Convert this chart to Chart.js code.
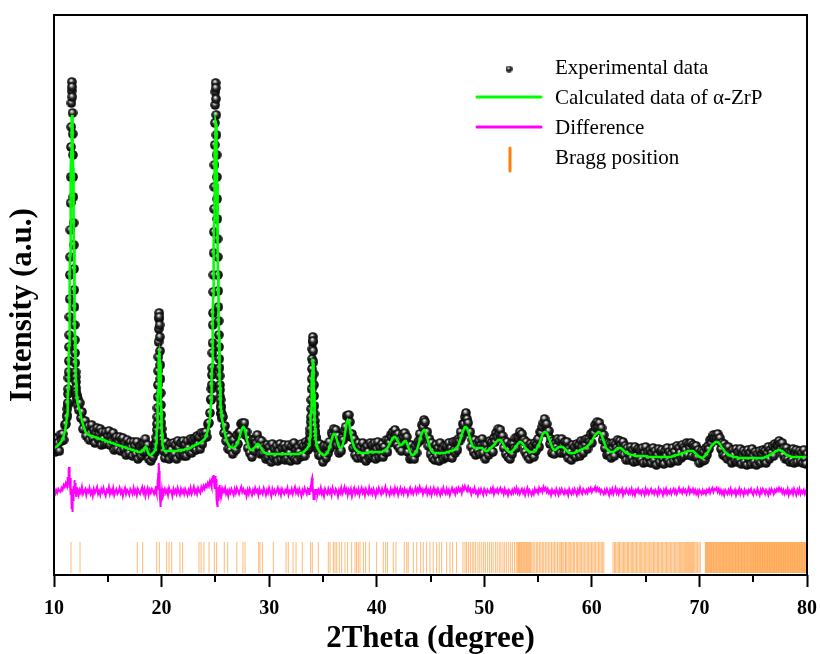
<!DOCTYPE html>
<html>
<head>
<meta charset="utf-8">
<script src="https://cdn.jsdelivr.net/npm/chart.js@4.4.0/dist/chart.umd.min.js"></script>
<style>
  html, body { margin: 0; padding: 0; background: #ffffff; }
  #wrap { width: 820px; height: 654px; }
</style>
</head>
<body>
<div id="wrap"><canvas id="xrd" width="820" height="654"></canvas></div>
<script>
// Scan grid: [start, end, step] in degrees 2θ (finer steps across the strong reflections)
const scanSegments = [
  [10.0, 11.1, 0.1],
  [11.2, 12.18, 0.02],
  [12.2, 19.3, 0.1],
  [19.4, 20.18, 0.02],
  [20.2, 24.5, 0.1],
  [24.6, 25.58, 0.02],
  [25.6, 33.6, 0.1],
  [33.7, 34.48, 0.02],
  [34.5, 80.0, 0.1]
];

// Observed intensity (a.u.)
const yObs = [
  // 10.0
  133,123,137,126,132,124,140,134,141,135,150,151,
  // 11.20 (step 0.02)
  160,158,166,170,172,181,186,197,203,214,
  228,240,258,276,300,318,345,372,398,428,
  448,472,484,493,488,478,462,441,420,398,
  378,352,330,306,285,268,250,235,222,212,
  203,198,193,187,183,180,178,176,173,170,
  // 12.2
  176,165,172,157,163,146,153,154,139,148,
  149,135,142,150,137,145,132,142,147,136,
  141,146,130,143,136,131,143,132,139,144,
  130,139,134,142,125,136,138,126,133,138,
  124,135,137,126,132,120,135,127,122,133,
  128,119,133,129,121,133,116,125,129,119,
  131,123,132,136,123,130,116,123,114,125,
  118,129,
  // 19.40 (step 0.02)
  127,123,130,126,133,131,138,136,145,151,
  158,167,178,190,204,218,233,246,256,262,
  258,250,238,224,210,196,182,170,160,152,
  146,140,138,133,134,129,131,126,129,124,
  // 20.2
  130,117,133,122,128,116,131,125,119,132,
  121,130,116,134,127,120,132,123,134,119,
  130,119,134,127,123,136,122,135,127,137,
  125,139,131,138,126,142,131,142,138,143,
  138,151,152,162,
  // 24.60 (step 0.02)
  175,176,186,190,200,207,222,232,250,262,
  283,300,322,343,366,388,410,430,452,470,
  483,492,487,476,460,440,420,398,376,356,
  336,318,300,284,268,254,240,228,216,207,
  199,190,185,178,175,169,167,162,161,157,
  // 25.6
  161,158,142,149,134,140,126,138,125,134,
  121,135,129,125,140,131,142,143,151,152,
  150,152,140,143,127,136,122,132,118,135,
  124,135,132,140,127,135,121,134,122,129,
  126,116,130,118,128,122,113,131,117,126,
  119,129,114,124,131,116,127,120,130,115,
  127,117,130,122,114,129,118,132,116,125,
  115,128,123,118,131,120,129,119,133,129,
  125,
  // 33.70 (step 0.02)
  131,127,133,131,137,136,142,146,153,158,
  166,175,186,196,206,216,226,233,238,234,
  224,213,201,190,179,169,161,154,149,144,
  142,137,138,132,134,129,131,127,130,126,
  // 34.5
  129,120,131,119,127,113,129,120,117,129,
  122,133,127,142,140,146,138,145,130,139,
  122,132,124,137,135,144,148,159,159,160,
  153,138,141,127,136,120,129,117,132,121,
  128,117,132,119,126,114,129,123,117,132,
  119,130,122,132,116,126,133,118,128,121,
  131,118,128,123,135,123,135,132,140,138,
  143,136,145,140,130,141,127,136,124,140,
  138,142,131,138,123,130,116,130,117,125,
  116,129,122,132,134,141,135,150,148,155,
  // 44.5
  153,143,143,129,136,121,132,117,125,115,
  130,119,127,114,132,121,126,116,129,118,
  129,118,132,122,127,117,133,125,122,134,
  125,136,134,143,138,151,151,158,162,156,
  152,143,143,128,135,123,135,120,131,124,
  134,121,130,136,122,130,116,130,125,120,
  134,125,133,123,137,133,142,138,146,141,
  145,138,139,127,134,121,133,118,126,116,
  131,121,131,127,137,127,138,137,143,139,
  141,134,135,123,133,119,129,116,131,121,
  // 54.5
  129,118,132,124,131,136,128,143,142,148,
  152,156,149,151,142,144,131,136,122,134,
  121,132,128,136,125,134,122,136,129,122,
  133,122,133,117,127,123,115,130,120,128,
  118,131,123,130,119,134,128,122,134,130,
  136,126,136,133,141,132,143,142,150,147,
  153,148,152,145,147,135,140,127,133,120,
  132,121,131,117,127,132,119,131,127,135,
  125,134,130,121,133,120,129,115,127,122,
  115,128,117,125,113,128,119,114,126,117,
  // 64.5
  125,115,127,112,122,128,113,123,117,125,
  112,122,127,115,124,110,120,126,113,123,
  125,116,111,124,119,127,114,123,112,121,
  127,114,123,118,129,114,127,122,117,130,
  119,128,125,132,120,131,127,132,119,130,
  128,118,129,118,125,112,122,124,114,123,
  115,127,120,129,126,135,132,137,140,137,
  140,137,141,134,137,126,132,120,131,119,
  128,116,128,119,123,112,125,120,114,126,
  113,123,115,126,111,120,124,113,122,110,
  // 74.5
  125,116,122,111,126,119,113,123,110,121,
  114,124,112,121,125,115,124,112,122,128,
  116,125,122,129,119,131,126,130,129,134,
  131,126,132,120,127,116,127,116,123,113,
  123,115,126,112,121,125,113,120,124,114,
  122,112,125,116,111,121
];

// Refined (calculated) profile of α-ZrP
const yCalc = [
  // 10.0
  127,128,128,129,130,131,132,134,136,139,143,149,
  // 11.20 (step 0.02)
  158,161,164,168,173,179,186,194,205,216,
  230,245,262,280,300,321,342,364,385,405,
  423,438,450,457,460,457,451,440,425,407,
  387,367,346,325,305,285,268,252,238,225,
  214,205,198,192,187,183,180,177,175,173,
  // 12.2
  172,168,164,159,154,150,147,144,142,141,
  140,140,139,139,139,138,138,138,137,137,
  136,136,136,135,135,135,134,134,133,133,
  133,132,132,132,131,131,130,130,130,129,
  129,129,128,128,128,127,127,126,126,126,
  125,125,125,124,124,124,123,123,123,123,
  124,125,127,128,127,124,121,120,120,121,
  122,123,
  // 19.40 (step 0.02)
  125,126,127,128,130,132,134,137,142,147,
  153,159,167,176,185,194,203,210,217,221,
  222,221,217,210,203,194,185,176,167,159,
  153,147,142,137,134,132,130,128,127,126,
  // 20.2
  125,124,124,124,124,124,124,124,124,124,
  124,124,124,124,125,125,125,125,125,125,
  126,126,126,126,127,127,128,129,129,130,
  130,131,131,132,132,133,134,135,136,138,
  141,145,150,157,
  // 24.60 (step 0.02)
  173,178,184,192,199,209,220,233,247,263,
  279,296,315,334,354,373,390,407,423,436,
  445,451,453,451,445,436,423,408,391,375,
  356,337,318,300,283,268,252,238,225,214,
  204,196,188,182,177,172,168,165,162,160,
  // 25.6
  158,152,146,141,136,133,131,129,128,128,
  127,127,128,129,131,133,136,140,144,147,
  148,147,143,137,132,128,126,125,125,126,
  127,128,130,131,131,130,128,126,124,123,
  122,122,121,121,121,121,121,121,121,121,
  121,121,121,121,121,121,121,121,121,121,
  121,121,121,121,121,121,121,121,121,121,
  121,121,121,122,122,122,123,124,125,126,
  128,
  // 33.70 (step 0.02)
  129,130,131,133,135,138,142,146,152,158,
  164,172,180,188,195,202,207,211,213,212,
  208,203,196,189,181,173,165,159,153,147,
  143,139,136,134,132,131,130,129,129,128,
  // 34.5
  127,125,123,122,121,120,120,120,121,122,
  124,127,131,135,139,141,141,139,135,131,
  128,127,127,129,133,138,145,152,155,154,
  148,141,135,131,128,126,125,124,123,123,
  122,122,122,122,122,122,122,122,123,123,
  123,123,123,123,123,123,123,123,123,123,
  123,124,124,125,126,127,129,131,133,135,
  137,138,138,137,135,133,131,130,130,131,
  133,134,134,132,129,126,123,121,120,120,
  121,122,124,127,131,135,139,142,144,145,
  // 44.5
  144,141,137,133,129,126,124,123,122,122,
  122,122,122,122,122,122,122,122,122,122,
  123,123,123,124,124,124,125,125,126,127,
  128,130,133,136,140,143,146,148,148,147,
  144,140,136,132,129,128,127,127,127,127,
  127,127,127,127,126,125,124,124,124,125,
  126,127,128,129,130,131,133,134,135,135,
  135,134,132,130,128,126,125,124,123,123,
  123,124,125,126,128,129,131,132,133,133,
  132,131,129,127,126,125,124,123,123,123,
  // 54.5
  123,123,124,125,127,129,131,134,137,140,
  142,143,143,142,140,137,134,131,128,126,
  125,125,126,127,128,128,128,128,128,127,
  126,125,124,123,122,122,122,122,122,122,
  123,123,124,124,125,125,126,126,127,127,
  128,129,130,131,132,134,136,138,140,141,
  142,143,143,142,140,137,134,131,128,126,
  125,124,123,123,123,123,124,125,126,127,
  127,127,127,126,125,124,123,122,122,121,
  121,120,120,120,120,119,119,119,119,119,
  // 64.5
  119,119,119,119,119,119,118,118,118,118,
  118,118,118,118,118,118,118,118,118,118,
  118,118,118,118,118,118,118,118,118,118,
  119,119,119,120,120,120,121,121,121,122,
  122,122,123,123,124,124,124,124,124,124,
  123,122,121,120,119,118,118,117,117,118,
  119,120,122,123,125,127,129,130,131,132,
  133,133,133,132,131,129,127,126,124,123,
  122,121,120,120,119,119,118,118,118,118,
  118,117,117,117,117,117,117,117,117,117,
  // 74.5
  117,117,117,117,117,117,117,117,117,117,
  117,117,117,117,117,117,118,118,119,119,
  120,120,121,122,122,123,124,124,125,125,
  125,124,124,123,122,121,120,120,119,119,
  118,118,118,118,118,118,118,118,118,118,
  118,118,118,118,118,118
];

// Difference curve (observed − calculated), plotted offset below the pattern
const yDiff = [
  // 10.0
  83,81,85,82,86,84,83,87,85,90,88,92,
  // 11.20 (step 0.02)
  89,93,87,95,90,98,94,102,97,105,
  108,100,96,104,92,88,97,85,91,80,
  86,74,78,66,70,63,72,68,79,75,
  84,80,89,86,94,90,95,88,92,85,
  89,81,86,79,84,88,82,86,80,85,
  // 12.2
  87,80,85,82,88,81,84,86,80,85,
  83,87,81,84,79,86,82,85,88,81,
  84,80,86,83,87,82,79,85,83,88,
  81,85,82,87,80,84,86,81,83,87,
  82,85,79,84,87,81,85,83,80,86,
  84,81,87,82,85,80,86,83,81,85,
  88,82,86,79,84,87,80,85,82,86,
  84,81,
  // 19.40 (step 0.02)
  85,81,86,83,88,84,87,82,89,86,
  91,88,95,92,99,104,98,108,112,104,
  96,88,82,76,71,68,74,70,78,75,
  82,79,85,81,86,82,87,80,85,83,
  // 20.2
  81,86,82,85,80,87,83,84,79,86,
  82,85,81,87,83,80,86,82,85,81,
  86,83,80,85,82,87,81,84,88,82,
  85,81,87,84,82,88,85,89,86,90,
  88,92,89,94,
  // 24.60 (step 0.02)
  90,95,88,93,91,97,92,96,94,99,
  95,100,96,98,94,92,97,89,86,91,
  95,99,93,96,90,85,80,76,71,68,
  74,70,79,75,84,80,88,84,90,86,
  82,87,80,85,82,86,81,84,80,85,
  // 25.6
  80,86,83,87,81,84,79,85,82,86,
  83,80,86,82,87,84,81,85,88,83,
  86,82,84,79,85,81,86,83,80,85,
  82,87,83,85,80,86,82,84,81,87,
  84,80,85,82,87,83,79,86,82,85,
  81,84,87,82,85,80,86,83,81,85,
  83,87,80,84,82,86,81,85,88,82,
  85,81,86,83,79,85,82,87,84,81,
  86,
  // 33.70 (step 0.02)
  84,81,86,83,87,84,88,85,89,86,
  90,88,93,91,95,97,93,96,89,85,
  80,77,75,79,76,81,78,84,81,86,
  82,85,81,86,83,80,85,82,86,83,
  // 34.5
  80,85,82,87,81,84,79,86,83,81,
  86,82,85,80,87,83,81,86,84,79,
  85,82,87,81,84,88,83,86,80,85,
  82,86,79,84,87,81,85,82,86,80,
  84,87,82,85,80,86,83,81,87,82,
  85,81,86,83,79,85,82,87,84,81,
  86,82,84,88,81,85,83,80,86,82,
  85,81,87,83,86,80,84,87,82,85,
  81,86,83,85,80,84,87,82,85,81,
  84,87,82,86,83,88,84,86,81,85,
  // 44.5
  83,87,81,85,82,86,80,84,87,82,
  85,81,86,83,80,85,82,87,83,81,
  86,82,85,80,84,87,83,85,81,86,
  83,87,84,86,82,88,85,89,86,84,
  88,84,86,81,85,83,87,82,84,80,
  85,82,86,83,80,86,84,81,85,83,
  82,86,83,87,81,85,83,86,82,85,
  87,83,85,81,86,82,84,80,85,83,
  81,85,82,86,83,87,82,85,81,84,
  86,82,85,80,84,87,81,85,83,80,
  // 54.5
  84,81,86,83,85,82,87,84,86,83,
  88,85,87,83,86,82,84,80,85,82,
  84,81,86,83,80,85,82,86,83,81,
  85,82,84,80,86,83,81,85,82,86,
  83,80,85,82,87,83,81,86,84,82,
  85,82,86,84,87,83,86,85,88,84,
  87,84,86,82,85,83,81,85,82,86,
  83,80,85,82,86,81,84,87,82,85,
  81,85,83,86,80,84,82,86,83,81,
  85,82,86,81,84,80,85,83,86,82,
  // 64.5
  84,81,85,83,80,86,82,85,81,84,
  86,82,84,81,85,83,80,86,82,85,
  83,80,85,82,86,81,84,82,85,81,
  84,86,82,85,81,84,87,83,85,82,
  86,83,85,81,84,87,82,85,83,86,
  82,85,81,84,80,85,83,81,85,82,
  84,81,85,83,86,82,85,87,83,86,
  85,87,83,86,82,85,81,84,80,85,
  83,81,85,82,86,81,84,82,85,80,
  84,82,86,81,85,83,80,85,82,84,
  // 74.5
  81,85,83,86,82,80,85,83,81,86,
  83,80,85,82,86,84,81,85,83,80,
  85,82,86,84,81,85,83,86,84,87,
  84,86,82,85,81,84,82,86,80,84,
  82,85,81,86,83,80,85,82,86,81,
  84,82,85,81,84,82
];

// Reflection positions of the α-ZrP phase (2θ, degrees)
const braggPositions = [
  11.58, 12.42, 17.74, 18.24, 19.55, 19.79, 20.48, 20.69, 20.94, 21.71, 21.96,
  23.48, 23.67, 23.94, 24.41, 24.90, 25.12, 25.83, 26.15, 27.00, 27.56, 27.76,
  29.03, 29.15, 29.37, 30.39, 31.57, 31.78, 32.22, 32.50, 33.08, 33.86, 34.01,
  34.57, 35.50, 35.66, 35.97, 36.12, 36.28, 36.52, 36.74, 37.05, 37.30, 37.67,
  37.98, 38.13, 38.29, 38.45, 38.76, 38.97, 39.31, 39.99, 40.61, 40.83, 41.01,
  41.54, 41.79, 42.56, 42.79, 42.93, 43.41, 43.72,
  44.09, 44.33, 44.64, 44.95, 45.25, 45.57, 45.81, 46.04, 46.50, 46.81, 47.06, 47.43,
  48.02, 48.21, 48.35, 48.52, 48.70, 48.88, 49.03, 49.20, 49.41, 49.58, 49.77, 49.95,
  50.10, 50.31, 50.49, 50.66, 50.82, 51.03, 51.20, 51.39, 51.55, 51.74, 51.90, 52.08,
  52.27, 52.45, 52.61, 52.80, 52.97,
  53.10, 53.18, 53.27, 53.35, 53.44, 53.52, 53.61, 53.70, 53.78, 53.87, 53.95, 54.04,
  54.13, 54.22, 54.31, 54.42,
  54.55, 54.70, 54.84, 54.97, 55.12, 55.26, 55.40, 55.53, 55.68, 55.82, 55.96, 56.10,
  56.25, 56.39, 56.52, 56.66, 56.80,
  56.95, 57.06, 57.18, 57.30, 57.41, 57.55, 57.66, 57.79, 57.90, 58.03, 58.15, 58.28,
  58.40, 58.55, 58.67, 58.80, 58.92, 59.05, 59.18, 59.30, 59.44, 59.57, 59.70, 59.83,
  59.96, 60.09, 60.22, 60.35, 60.48, 60.61, 60.74, 60.87, 61.00, 61.12,
  61.97, 62.10, 62.21, 62.34, 62.46, 62.57, 62.70, 62.82, 62.95, 63.06, 63.18, 63.31,
  63.42, 63.55, 63.67, 63.79, 63.90, 64.03, 64.15, 64.27, 64.40, 64.51, 64.63, 64.76,
  64.88, 65.00, 65.12, 65.24, 65.37, 65.49, 65.60, 65.73, 65.85, 65.97, 66.10, 66.21,
  66.33, 66.46, 66.58, 66.70, 66.82, 66.94, 67.06, 67.18, 67.30, 67.42, 67.55, 67.67,
  67.79, 67.91, 68.02, 68.14, 68.25, 68.36, 68.46, 68.57, 68.66, 68.75, 68.84, 68.93,
  69.02, 69.11, 69.20, 69.29, 69.38, 69.47, 69.58, 69.70, 69.83, 69.96, 70.08,
  70.55, 70.62, 70.68, 70.75, 70.83, 70.90, 70.96, 71.04, 71.11, 71.17, 71.25, 71.32,
  71.38, 71.46, 71.53, 71.60, 71.66, 71.74, 71.81, 71.88, 71.95, 72.02, 72.09, 72.16,
  72.23, 72.30, 72.37, 72.44, 72.51, 72.58, 72.65, 72.72, 72.79, 72.86, 72.93, 73.00,
  73.07, 73.14, 73.21, 73.28, 73.35, 73.42, 73.49, 73.56, 73.63, 73.70, 73.77, 73.84,
  73.91, 73.98, 74.05, 74.12, 74.19, 74.26, 74.33, 74.40, 74.47, 74.54, 74.61, 74.68,
  74.75, 74.82, 74.88, 74.95, 75.02, 75.08, 75.15, 75.21, 75.28, 75.34, 75.41, 75.47,
  75.54, 75.60, 75.67, 75.73, 75.80, 75.86, 75.93, 75.99, 76.06, 76.12, 76.19, 76.25,
  76.32, 76.38, 76.45, 76.51, 76.58, 76.64, 76.71, 76.77, 76.84, 76.90, 76.97, 77.03,
  77.10, 77.16, 77.23, 77.29, 77.36, 77.42, 77.49, 77.55, 77.62, 77.68, 77.75, 77.81,
  77.88, 77.94, 78.01, 78.07, 78.14, 78.20, 78.27, 78.33, 78.40, 78.46, 78.53, 78.59,
  78.66, 78.72, 78.79, 78.85, 78.92, 78.98, 79.05, 79.11, 79.18, 79.24, 79.31, 79.37,
  79.44, 79.50, 79.57, 79.63, 79.70, 79.76, 79.83, 79.89, 79.96
];

const xTicks = [10, 20, 30, 40, 50, 60, 70, 80];
const seriesLabels = ['Experimental data', 'Calculated data of α-ZrP', 'Difference', 'Bragg position'];

// Vertical level (intensity units) of the reflection markers
const braggLevel = 17.5;

// ---------------------------------------------------------------------------
const twoTheta = scanSegments.flatMap(([a, b, s]) => {
  const n = Math.round((b - a) / s);
  return Array.from({ length: n + 1 }, (_, i) => +(a + i * s).toFixed(2));
});
if (yObs.length !== twoTheta.length || yCalc.length !== twoTheta.length || yDiff.length !== twoTheta.length) {
  throw new Error('length mismatch: grid ' + twoTheta.length + ', obs ' + yObs.length +
    ', calc ' + yCalc.length + ', diff ' + yDiff.length);
}

const obsPoints = twoTheta.map((t, i) => ({ x: t, y: yObs[i] }));
const calcPoints = twoTheta.map((t, i) => ({ x: t, y: yCalc[i] }));
const diffPoints = twoTheta.map((t, i) => ({ x: t, y: yDiff[i] }));
const braggPoints = braggPositions.map(t => ({ x: t, y: braggLevel }));

// Shaded black sphere used as the marker of the observed data
function makeBall(size) {
  const c = document.createElement('canvas');
  c.width = size; c.height = size;
  const g = c.getContext('2d');
  const r = size / 2;
  const grad = g.createRadialGradient(r * 0.8, r * 0.62, 0, r, r, r);
  grad.addColorStop(0, '#ffffff');
  grad.addColorStop(0.2, '#b8b8b8');
  grad.addColorStop(0.5, '#2a2a2a');
  grad.addColorStop(1, '#000000');
  g.beginPath();
  g.arc(r, r, r - 0.2, 0, Math.PI * 2);
  g.fillStyle = grad;
  g.fill();
  return c;
}
const ball = makeBall(10);
const legendBall = makeBall(7);

const SERIF = '"Liberation Serif", "Times New Roman", Times, serif';
Chart.defaults.font.family = SERIF;
Chart.defaults.color = '#000000';

const decorations = {
  id: 'decorations',
  afterDraw(chart) {
    const { ctx, chartArea: a, scales } = chart;
    const x = scales.x;
    ctx.save();
    // frame
    ctx.strokeStyle = '#000000';
    ctx.lineWidth = 2;
    ctx.strokeRect(a.left, a.top, a.right - a.left, a.bottom - a.top);
    // minor ticks halfway between labelled ticks
    for (let i = 0; i < xTicks.length - 1; i++) {
      const px = Math.round(x.getPixelForValue((xTicks[i] + xTicks[i + 1]) / 2));
      ctx.beginPath();
      ctx.moveTo(px, a.bottom);
      ctx.lineTo(px, a.bottom + 7);
      ctx.stroke();
    }
    // y-axis title
    ctx.save();
    ctx.translate(23, 305);
    ctx.rotate(-Math.PI / 2);
    ctx.font = 'bold 31px ' + SERIF;
    ctx.fillStyle = '#000000';
    ctx.textAlign = 'center';
    ctx.textBaseline = 'middle';
    ctx.fillText('Intensity (a.u.)', 0, 0);
    ctx.restore();
    // legend
    const ds = chart.data.datasets;
    const byLabel = l => ds.find(d => d.label === l);
    ctx.font = '21px ' + SERIF;
    ctx.fillStyle = '#000000';
    ctx.textAlign = 'left';
    ctx.textBaseline = 'alphabetic';
    const tx = 555;
    ctx.drawImage(legendBall, 509 - 3.5, 69 - 3.5, 7, 7);
    ctx.fillText(seriesLabels[0], tx, 74);
    ctx.lineCap = 'round';
    ctx.strokeStyle = byLabel(seriesLabels[1]).borderColor;
    ctx.lineWidth = 3;
    ctx.beginPath(); ctx.moveTo(477, 97); ctx.lineTo(541, 97); ctx.stroke();
    ctx.fillText(seriesLabels[1], tx, 104);
    ctx.strokeStyle = byLabel(seriesLabels[2]).borderColor;
    ctx.beginPath(); ctx.moveTo(477, 127); ctx.lineTo(541, 127); ctx.stroke();
    ctx.fillText(seriesLabels[2], tx, 134);
    ctx.strokeStyle = '#ff7f0e';
    ctx.beginPath(); ctx.moveTo(510, 148); ctx.lineTo(510, 171); ctx.stroke();
    ctx.fillText(seriesLabels[3], tx, 164);
    ctx.restore();
  }
};

new Chart(document.getElementById('xrd'), {
  type: 'line',
  data: {
    datasets: [
      {
        label: seriesLabels[1],
        data: calcPoints,
        borderColor: '#00ff00',
        borderWidth: 2.5,
        pointRadius: 0,
        tension: 0,
        order: 0
      },
      {
        label: seriesLabels[0],
        data: obsPoints,
        showLine: false,
        pointStyle: ball,
        pointRadius: 5,
        order: 1
      },
      {
        label: seriesLabels[2],
        data: diffPoints,
        borderColor: '#ff00ff',
        borderWidth: 2,
        pointRadius: 0,
        tension: 0,
        order: 2
      },
      {
        label: seriesLabels[3],
        data: braggPoints,
        showLine: false,
        pointStyle: 'line',
        rotation: 90,
        pointRadius: 15.5,
        borderColor: 'rgba(255,127,0,0.55)',
        borderWidth: 1,
        order: 3
      }
    ]
  },
  options: {
    responsive: false,
    animation: false,
    devicePixelRatio: 1,
    events: [],
    layout: { autoPadding: false, padding: { top: 15, right: 13, left: 0, bottom: 0 } },
    plugins: { legend: { display: false }, tooltip: { enabled: false } },
    scales: {
      x: {
        type: 'linear',
        min: 10,
        max: 80,
        afterFit(s) { s.height = 79; s.paddingRight = 0; s.paddingLeft = 0; },
        afterBuildTicks(s) { s.ticks = xTicks.map(v => ({ value: v })); },
        border: { display: false },
        grid: { display: true, drawOnChartArea: false, drawTicks: true, tickLength: 12, tickWidth: 2, tickColor: '#000000' },
        ticks: { padding: 10, maxRotation: 0, autoSkip: false, color: '#000000', font: { size: 20, weight: 'bold' } },
        title: { display: true, text: '2Theta (degree)', color: '#000000', font: { size: 31, weight: 'bold' }, padding: { top: 0, bottom: -4 } }
      },
      y: {
        min: 0,
        max: 560,
        afterFit(s) { s.width = 54; },
        border: { display: false },
        grid: { display: false },
        ticks: { display: false }
      }
    }
  },
  plugins: [decorations]
});
</script>
</body>
</html>
